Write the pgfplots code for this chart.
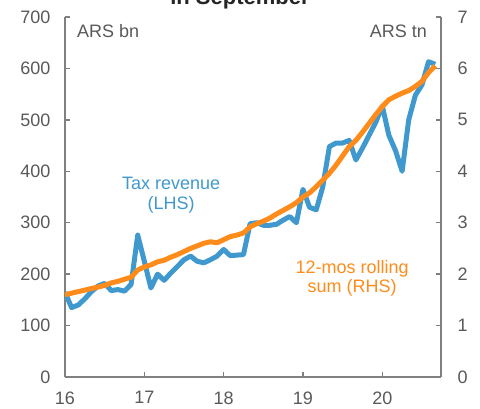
\documentclass[border=0pt]{standalone}
\usepackage{fontspec}
\setmainfont{Liberation Sans}
\usepackage{pgfplots}
\pgfplotsset{compat=1.18}
\usepackage{pgfplotstable}
\definecolor{taxblue}{RGB}{64,153,206}
\definecolor{rollorange}{RGB}{255,140,26}
\definecolor{axgray}{RGB}{128,128,128}
\definecolor{txtgray}{RGB}{89,89,89}
\definecolor{titlegray}{RGB}{38,38,38}

\pgfplotstableread{
t      tax  roll
16.000 165 1.60
16.083 135 1.63
16.167 140 1.66
16.250 152 1.69
16.333 166 1.72
16.417 177 1.75
16.500 182 1.78
16.583 168 1.83
16.667 170 1.86
16.750 167 1.90
16.833 180 1.94
16.917 276 2.08
17.000 225 2.14
17.083 173 2.18
17.167 200 2.24
17.250 188 2.27
17.333 202 2.33
17.417 215 2.38
17.500 228 2.44
17.583 235 2.50
17.667 225 2.55
17.750 222 2.60
17.833 228 2.63
17.917 235 2.61
18.000 248 2.67
18.083 236 2.73
18.167 237 2.76
18.250 238 2.80
18.333 298 2.92
18.417 300 2.98
18.500 295 3.03
18.583 295 3.09
18.667 297 3.17
18.750 305 3.24
18.833 312 3.31
18.917 300 3.39
19.000 365 3.50
19.083 330 3.58
19.167 325 3.70
19.250 370 3.83
19.333 448 3.96
19.417 455 4.12
19.500 455 4.30
19.583 460 4.48
19.667 422 4.60
19.750 445 4.76
19.833 470 4.93
19.917 495 5.10
20.000 527 5.26
20.083 470 5.39
20.167 440 5.46
20.250 400 5.52
20.333 500 5.57
20.417 548 5.65
20.500 568 5.75
20.583 613 5.92
20.667 608 6.05
}\datatable

\pgfplotsset{
  myaxis/.style={
    scale only axis, width=376pt, height=360pt,
    at={(0pt,0pt)}, anchor=south west,
    xmin=16, xmax=20.74,
    tick align=inside, major tick length=5pt,
    axis line style={draw=axgray, line width=1.3pt, -},
    tick style={draw=axgray, line width=1.3pt},
    tick label style={font=\fontsize{18}{20}\selectfont, text=txtgray},
    /pgf/number format/assume math mode=true,
  }
}

\begin{document}
\begin{tikzpicture}
\begin{axis}[myaxis,
  axis y line*=left, axis x line*=bottom,
  ymin=0, ymax=700, ytick={0,100,...,700},
  xtick={16,17,18,19,20}, xticklabels={16,17,18,19,20},
  yticklabel style={xshift=-11pt},
  xticklabel style={yshift=-11pt},
]
\addplot[taxblue, line width=5pt, line join=round] table[x=t, y=tax] {\datatable};
\node[font=\fontsize{18}{19.5}\selectfont, text=taxblue, align=center] at (axis cs:17.337,354) {Tax revenue\\(LHS)};
\end{axis}
\begin{axis}[myaxis,
  axis y line*=right, axis x line=none,
  ymin=0, ymax=7, ytick={0,1,...,7},
  yticklabel style={xshift=13pt},
]
\addplot[rollorange, line width=5pt, line join=round] table[x=t, y=roll] {\datatable};
\node[font=\fontsize{18}{19.5}\selectfont, text=rollorange, align=center] at (axis cs:19.62,1.915) {12-mos rolling\\sum (RHS)};
\end{axis}
\node[anchor=base west, inner sep=0pt, font=\fontsize{18}{20}\selectfont, text=txtgray] at (12pt,339pt) {ARS bn};
\node[anchor=base east, inner sep=0pt, font=\fontsize{18}{20}\selectfont, text=txtgray] at (362pt,339pt) {ARS tn};
\node[anchor=base, inner sep=0pt, font=\fontsize{22}{24}\selectfont\bfseries, text=titlegray] at (175pt,372pt) {in September};
\pgfresetboundingbox
\useasboundingbox (-65pt,-31pt) rectangle (415pt,377pt);
\end{tikzpicture}
\end{document}
